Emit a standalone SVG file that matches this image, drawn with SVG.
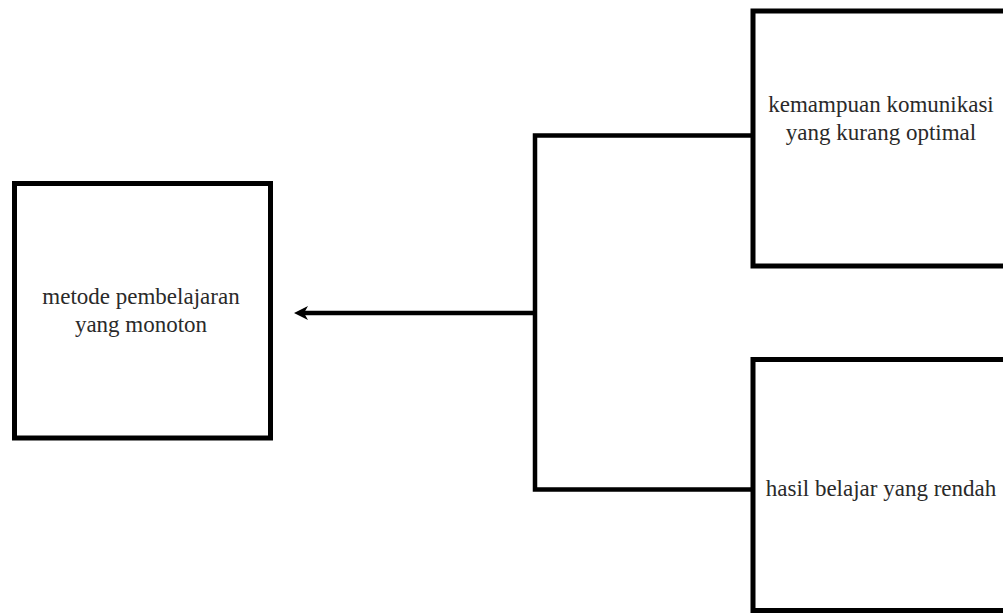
<svg xmlns="http://www.w3.org/2000/svg" width="1003" height="614" viewBox="0 0 1003 614">
<style>
.box{fill:#fff;stroke:#000;stroke-width:5}
.con{fill:none;stroke:#000;stroke-width:4.5}
.t{font-family:"Liberation Serif","Times New Roman",serif;font-size:23px;fill:#2a2a2a;text-anchor:middle}
</style>
<defs>
<marker id="ah" viewBox="0 0 14 14" refX="8" refY="7" markerWidth="14" markerHeight="14" markerUnits="userSpaceOnUse" orient="auto">
<path d="M0 0 L14 7 L0 14 L4 7 Z" fill="#000"/>
</marker>
</defs>
<rect width="1003" height="614" fill="#fff"/>
<g id="node-metode">
<rect class="box" x="14.5" y="183.5" width="256" height="254.5"/>
<text class="t" x="141" y="304">metode pembelajaran</text>
<text class="t" x="141" y="332">yang monoton</text>
</g>
<g id="node-komunikasi">
<rect class="box" x="753" y="11" width="262" height="255"/>
<text class="t" x="881" y="112">kemampuan komunikasi</text>
<text class="t" x="881" y="140">yang kurang optimal</text>
</g>
<g id="node-hasil">
<rect class="box" x="753" y="359.5" width="262" height="251"/>
<text class="t" x="881" y="496">hasil belajar yang rendah</text>
</g>
<g id="connectors">
<path class="con" d="M753 135.5 H535 V489.5 H753"/>
<path class="con" d="M535 313 H300" marker-end="url(#ah)"/>
</g>
</svg>
